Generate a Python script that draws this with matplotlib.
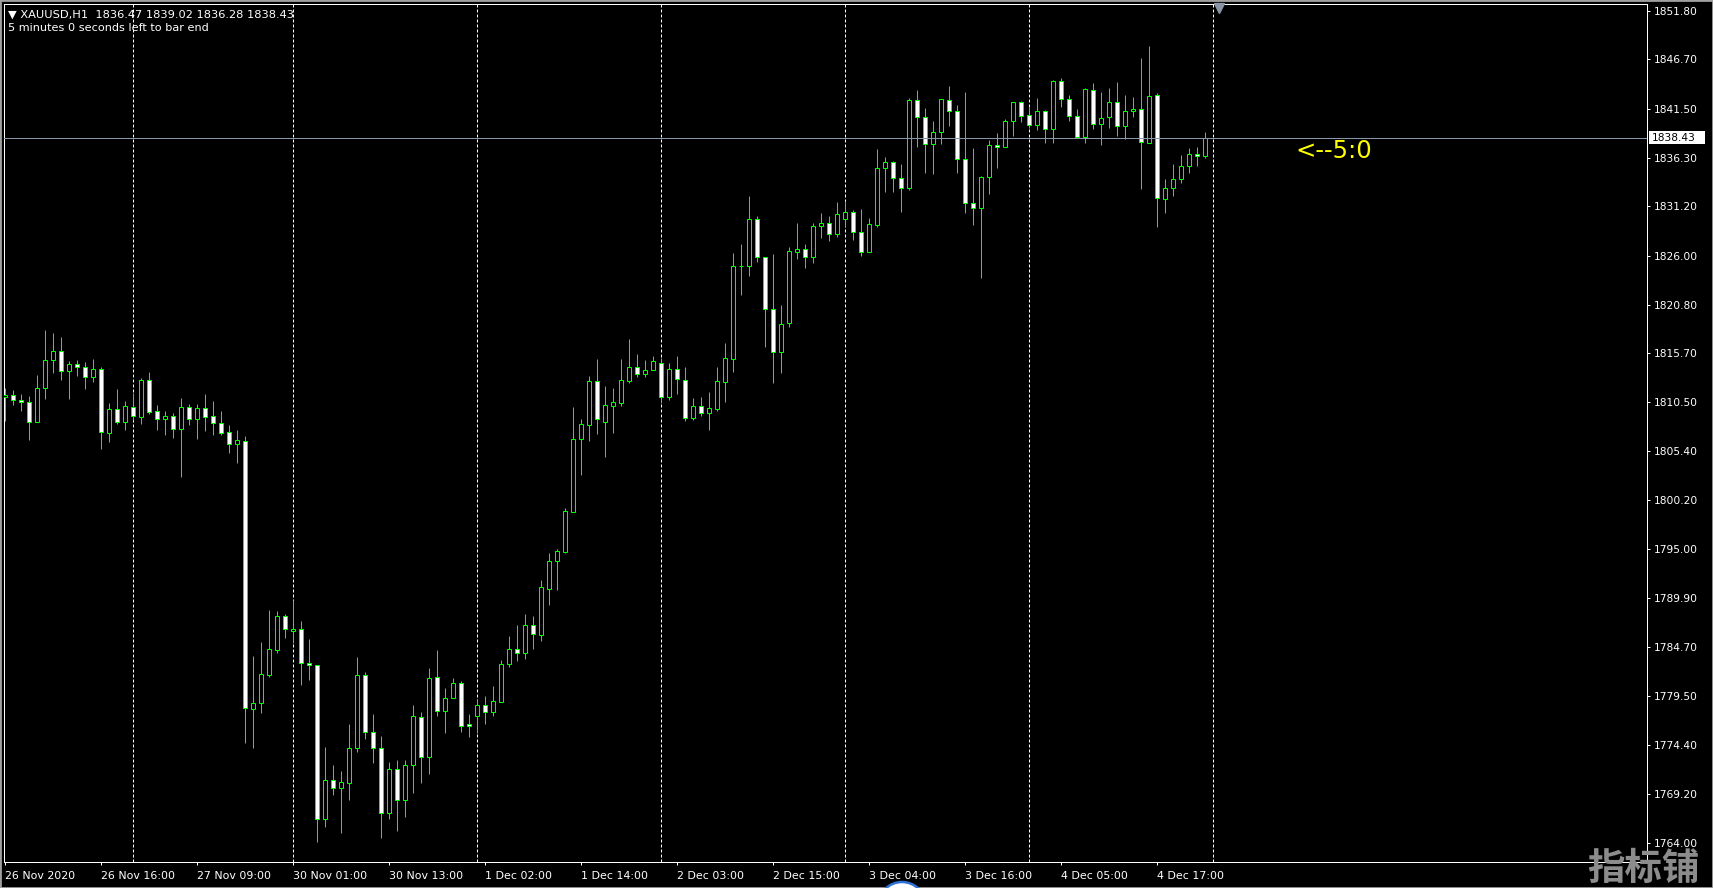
import matplotlib
matplotlib.use("Agg")
import matplotlib.pyplot as plt
from matplotlib.patches import Rectangle, Ellipse
import numpy as np

W, H = 1713, 888

# XAUUSD H1 bars (oldest first)
opens = [1811.10, 1811.25, 1810.76, 1810.51, 1808.41, 1812.06, 1814.95, 1815.89, 1813.86, 1814.52,
         1814.21, 1813.22, 1813.99, 1807.31, 1809.78, 1808.48, 1809.99, 1809.00, 1812.84, 1809.57,
         1808.79, 1809.04, 1807.74, 1809.99, 1808.72, 1809.88, 1809.04, 1808.37, 1807.35, 1806.08,
         1806.47, 1778.13, 1778.76, 1781.75, 1784.39, 1787.94, 1786.36, 1786.57, 1782.98, 1782.77,
         1766.53, 1770.67, 1769.80, 1770.39, 1774.02, 1781.71, 1775.70, 1774.02, 1767.16, 1771.80,
         1768.56, 1772.26, 1777.29, 1773.07, 1781.50, 1777.95, 1779.29, 1780.87, 1776.58, 1777.43,
         1778.56, 1777.89, 1778.95, 1782.88, 1784.47, 1784.04, 1786.99, 1785.94, 1790.86, 1793.75,
         1794.77, 1798.99, 1806.62, 1808.16, 1812.74, 1808.48, 1810.17, 1810.48, 1812.81, 1814.21,
         1813.47, 1813.90, 1814.64, 1811.05, 1814.00, 1812.84, 1808.83, 1810.14, 1809.36, 1809.78,
         1812.70, 1815.06, 1824.90, 1824.90, 1829.83, 1825.82, 1820.33, 1815.80, 1818.86, 1826.42,
         1826.66, 1825.82, 1829.09, 1829.40, 1828.24, 1829.90, 1830.56, 1828.45, 1826.34, 1829.23,
         1835.20, 1835.84, 1834.22, 1833.10, 1842.38, 1840.58, 1837.74, 1839.07, 1842.38, 1841.22,
         1836.15, 1831.51, 1830.98, 1834.26, 1837.63, 1837.42, 1840.16, 1842.17, 1840.80, 1839.74,
         1841.22, 1839.32, 1844.38, 1842.48, 1840.69, 1838.47, 1843.43, 1839.84, 1840.58, 1842.16,
         1839.63, 1841.29, 1841.43, 1837.91, 1842.90, 1831.93, 1833.09, 1834.04, 1835.41, 1836.68,
         1836.47]
highs = [1812.00, 1811.82, 1811.39, 1811.18, 1813.40, 1818.15, 1817.79, 1817.37, 1814.84, 1814.95,
         1814.77, 1815.05, 1814.21, 1810.41, 1811.92, 1810.66, 1811.46, 1813.08, 1813.71, 1810.23,
         1809.60, 1809.35, 1810.94, 1810.30, 1810.30, 1811.39, 1810.66, 1809.60, 1808.09, 1807.60,
         1806.96, 1783.76, 1785.23, 1788.61, 1788.50, 1788.15, 1789.66, 1787.45, 1785.55, 1782.77,
         1774.19, 1772.26, 1771.66, 1776.58, 1783.61, 1782.03, 1777.64, 1775.32, 1772.61, 1772.78,
         1772.78, 1778.59, 1777.85, 1782.45, 1784.39, 1780.34, 1781.40, 1781.12, 1777.64, 1779.18,
         1779.54, 1780.60, 1783.34, 1785.87, 1787.03, 1788.19, 1787.98, 1791.78, 1794.59, 1795.01,
         1799.34, 1809.99, 1808.73, 1813.30, 1815.06, 1812.24, 1812.00, 1815.06, 1817.17, 1815.62,
         1814.99, 1815.41, 1815.20, 1814.71, 1815.41, 1814.21, 1810.98, 1811.08, 1811.61, 1814.28,
         1816.82, 1826.31, 1827.22, 1832.29, 1830.18, 1825.90, 1826.17, 1820.79, 1826.87, 1829.47,
         1827.22, 1829.40, 1830.46, 1830.18, 1831.65, 1831.76, 1830.81, 1830.92, 1829.93, 1837.24,
         1836.40, 1835.98, 1835.63, 1842.59, 1843.47, 1841.53, 1840.20, 1842.48, 1843.89, 1841.89,
         1843.29, 1837.31, 1834.40, 1838.19, 1838.90, 1840.41, 1842.17, 1842.31, 1841.71, 1842.59,
         1841.36, 1844.52, 1844.73, 1842.94, 1841.46, 1843.64, 1844.24, 1843.25, 1843.64, 1844.31,
         1842.94, 1842.69, 1846.81, 1848.11, 1843.11, 1834.04, 1835.66, 1836.61, 1837.38, 1837.42,
         1839.02]
lows = [1808.50, 1810.23, 1809.64, 1806.54, 1808.41, 1810.90, 1813.64, 1812.87, 1810.90, 1813.29,
        1811.92, 1812.70, 1805.59, 1806.33, 1808.23, 1807.60, 1808.65, 1808.23, 1809.28, 1807.60,
        1807.07, 1806.79, 1802.67, 1808.12, 1806.68, 1807.49, 1807.07, 1807.07, 1805.21, 1804.15,
        1774.54, 1774.09, 1777.78, 1781.57, 1784.11, 1785.69, 1785.16, 1780.70, 1781.22, 1764.17,
        1765.68, 1769.09, 1765.12, 1768.56, 1773.66, 1774.96, 1772.50, 1764.52, 1766.53, 1765.33,
        1766.74, 1769.27, 1770.32, 1771.27, 1777.43, 1775.60, 1779.29, 1775.77, 1775.25, 1775.60,
        1776.59, 1777.43, 1778.95, 1782.64, 1783.27, 1783.45, 1784.50, 1785.38, 1789.14, 1790.72,
        1794.66, 1798.99, 1802.86, 1806.48, 1807.18, 1804.79, 1807.32, 1810.13, 1812.59, 1813.23,
        1813.23, 1813.90, 1810.42, 1810.77, 1811.40, 1808.59, 1808.66, 1809.08, 1807.60, 1809.64,
        1810.59, 1813.76, 1821.84, 1823.85, 1825.36, 1816.39, 1812.60, 1813.65, 1818.50, 1825.68,
        1824.73, 1825.25, 1827.89, 1827.58, 1828.00, 1829.05, 1827.64, 1825.99, 1826.34, 1829.05,
        1832.67, 1832.67, 1830.56, 1832.92, 1837.49, 1834.75, 1834.64, 1837.74, 1839.71, 1834.75,
        1830.46, 1829.23, 1823.60, 1832.53, 1835.28, 1837.42, 1838.65, 1840.13, 1839.49, 1839.25,
        1837.84, 1837.91, 1841.71, 1840.23, 1838.40, 1837.84, 1839.39, 1837.70, 1839.49, 1838.65,
        1838.33, 1840.65, 1833.06, 1837.84, 1829.05, 1830.53, 1832.32, 1833.62, 1834.68, 1835.48,
        1836.28]
closes = [1811.30, 1810.73, 1810.51, 1808.41, 1812.06, 1814.95, 1815.89, 1813.86, 1814.52, 1814.21,
          1813.22, 1813.99, 1807.42, 1809.78, 1808.48, 1810.09, 1809.11, 1812.84, 1809.53, 1808.79,
          1809.04, 1807.74, 1809.99, 1808.72, 1809.88, 1809.00, 1808.37, 1807.31, 1806.08, 1806.51,
          1778.23, 1778.76, 1781.82, 1784.46, 1787.94, 1786.57, 1786.57, 1782.98, 1782.77, 1766.53,
          1770.67, 1769.80, 1770.43, 1774.02, 1781.71, 1775.70, 1774.02, 1767.16, 1771.80, 1768.56,
          1772.26, 1777.43, 1773.07, 1781.40, 1777.95, 1779.29, 1780.87, 1776.37, 1776.37, 1778.55,
          1777.89, 1778.98, 1782.88, 1784.47, 1784.04, 1786.99, 1786.05, 1791.01, 1793.75, 1794.80,
          1799.02, 1806.62, 1808.20, 1812.74, 1808.80, 1810.20, 1810.52, 1812.84, 1814.21, 1813.47,
          1813.90, 1814.84, 1811.05, 1814.00, 1812.95, 1808.83, 1810.14, 1809.36, 1809.92, 1812.77,
          1815.16, 1824.90, 1824.95, 1829.83, 1825.82, 1820.33, 1815.80, 1818.75, 1826.45, 1826.66,
          1825.82, 1829.12, 1829.40, 1828.24, 1830.39, 1830.56, 1828.45, 1826.34, 1829.30, 1835.20,
          1835.84, 1834.22, 1833.10, 1842.38, 1840.58, 1837.74, 1839.07, 1842.48, 1841.22, 1836.15,
          1831.51, 1830.98, 1834.26, 1837.63, 1837.42, 1840.16, 1842.17, 1840.76, 1839.74, 1841.25,
          1839.32, 1844.38, 1842.48, 1840.69, 1838.47, 1843.54, 1839.84, 1840.48, 1842.16, 1839.63,
          1841.29, 1841.43, 1837.95, 1842.80, 1832.04, 1833.09, 1834.04, 1835.41, 1836.68, 1836.47,
          1838.43]

price_ticks = [1851.80, 1846.70, 1841.50, 1836.30, 1831.20, 1826.00, 1820.80, 1815.70, 1810.50,
               1805.40, 1800.20, 1795.00, 1789.90, 1784.70, 1779.50, 1774.40, 1769.20, 1764.00]
time_label_bars = [0, 12, 24, 36, 48, 60, 72, 84, 96, 108, 120, 132, 144]
time_labels = ["26 Nov 2020", "26 Nov 16:00", "27 Nov 09:00", "30 Nov 01:00", "30 Nov 13:00",
               "1 Dec 02:00", "1 Dec 14:00", "2 Dec 03:00", "2 Dec 15:00", "3 Dec 04:00",
               "3 Dec 16:00", "4 Dec 05:00", "4 Dec 17:00"]
separator_bars = [16, 36, 59, 82, 105, 128, 151]
last_price = 1838.43
header = "\u25bc XAUUSD,H1  1836.47 1839.02 1836.28 1838.43"
timer_text = "5 minutes 0 seconds left to bar end"

LIME = "#00ff00"
PX = 0.72  # one pixel in points at 100 dpi

fig = plt.figure(figsize=(W / 100, H / 100), dpi=100, facecolor="black")
ax = fig.add_axes([4 / W, (H - 862) / H, (1647 - 4) / W, (862 - 4) / H])
ax.set_facecolor("black")

o = np.array(opens)
c = np.array(closes)
x = np.arange(len(o))

# period separators
for b in separator_bars:
    ax.axvline(b, color="white", lw=PX, ls=(0, (3, 2)), zorder=1)

# candles
ax.vlines(x, lows, highs, color=LIME, lw=PX, zorder=3)
fills = np.where(c < o, "white", "black")
ax.bar(x, np.abs(c - o), 0.5, bottom=np.minimum(o, c), color=fills,
       edgecolor=LIME, linewidth=PX, zorder=4)

# bid line
ax.axhline(last_price, color="#8a96a8", lw=PX, zorder=5)

ax.set_xlim(-0.1625, 205.2)
ax.set_ylim(1762.02, 1852.54)

for s in ax.spines.values():
    s.set_color("white")
    s.set_linewidth(PX)

ax.yaxis.tick_right()
ax.set_yticks(price_ticks)
ax.set_yticklabels([f"{p:.2f}" for p in price_ticks])
ax.tick_params(axis="y", colors="white", length=3 * PX, width=PX, pad=3, labelsize=7.7)

ax.set_xticks(time_label_bars)
ax.set_xticklabels(time_labels)
ax.tick_params(axis="x", colors="white", length=3 * PX, width=PX, pad=4.5, labelsize=7.9)
for t in ax.get_xticklabels():
    t.set_horizontalalignment("left")

# current price box on the scale
ytr = ax.get_yaxis_transform()
span = (1852.54 - 1762.02) / 858
ax.add_patch(Rectangle((1 + 2 / 1643, last_price - 6.5 * span), 56 / 1643, 13 * span,
                       transform=ytr, facecolor="white", edgecolor="none", clip_on=False, zorder=6))
ax.text(1 + 5 / 1643, last_price, f"{last_price:.2f}", transform=ytr, color="black",
        fontsize=7.7, va="center", ha="left", zorder=7, clip_on=False)

# chart shift marker
ax.plot([151.7], [0.9959], marker="v", ms=7, color="#8a96a8", transform=ax.get_xaxis_transform(),
        clip_on=False, zorder=6)

# countdown label
ax.text(161.3, 1837.0, "<--5:0", color="yellow", fontsize=17.5, va="center", ha="left", zorder=6)

# header
fig.text(8 / W, 1 - 14.5 / H, header, color="white", fontsize=8.2, va="center", ha="left")
fig.text(8 / W, 1 - 28 / H, timer_text, color="white", fontsize=8.1, va="center", ha="left")

# window frame, watermark and the round button at the bottom
fig.patches.append(Rectangle((0, 0), 1, 1, transform=fig.transFigure, fill=False,
                             edgecolor="#a0a0a0", lw=2.0))
fig.patches.append(Ellipse((902 / W, 1 - 906 / H), 48 / W, 48 / H, transform=fig.transFigure,
                           facecolor="white", edgecolor="#2f6fd6", lw=1.8))
fig.text(1643 / W, 1 - 868 / H, "指标铺", color="#8c8c8c", fontsize=27, fontweight="bold",
         family=["Noto Sans CJK SC", "DejaVu Sans"], va="center", ha="center")

fig.savefig("out.png", dpi=100, facecolor="black")
